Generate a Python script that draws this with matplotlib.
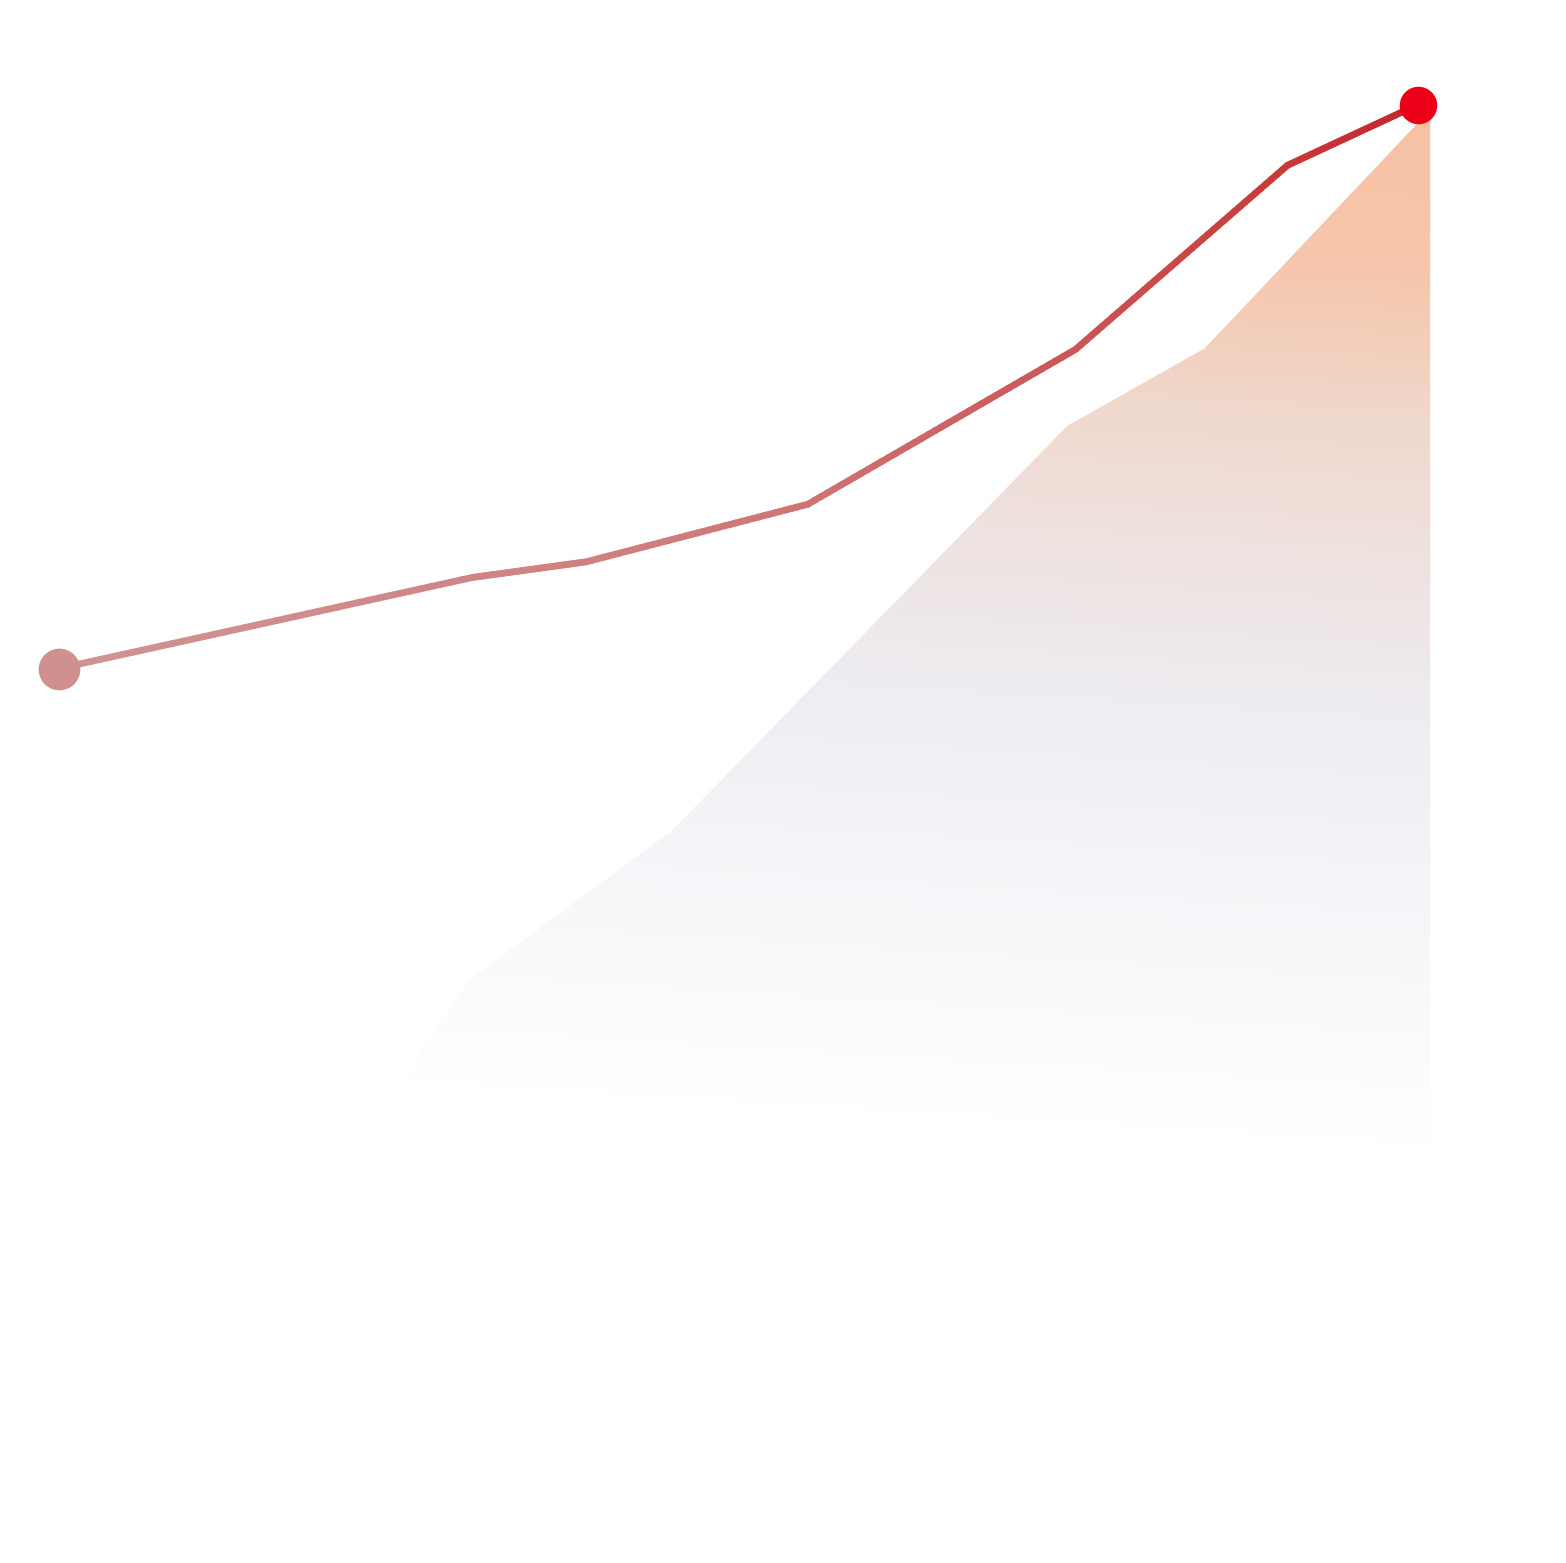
import numpy as np
import matplotlib
matplotlib.use("Agg")
import matplotlib.pyplot as plt
from matplotlib.collections import LineCollection
from matplotlib.colors import LinearSegmentedColormap

# main line
x_vals = [0, 30.4, 38.8, 55.1, 74.8, 90.4, 100]
line_vals = [46.1, 54.8, 56.3, 61.8, 76.6, 94.2, 100]

# shaded area (upper edge)
area_x = [23.5, 26.6, 30.2, 45.1, 74.2, 84.3, 100.9]
area_vals = [0, 9.6, 16.3, 30.6, 69.3, 76.7, 99.5]

fig = plt.figure(figsize=(15.66, 15.63), dpi=100)
ax = fig.add_axes([0, 0, 1, 1])
ax.set_xlim(-4.34, 110.89)
ax.set_ylim(-39.4, 110.0)
ax.axis("off")

# gradient area clipped to polygon
area_cmap = LinearSegmentedColormap.from_list("area", [
    (0.00, "#ffffff"),
    (0.08, "#ffffff"),
    (0.20, "#fafafc"),
    (0.33, "#f3f4f7"),
    (0.46, "#eeedf2"),
    (0.60, "#eee2e0"),
    (0.73, "#f0d8cc"),
    (0.86, "#f6c6ac"),
    (1.00, "#f7c2a4"),
])
poly = ax.fill_between(area_x, area_vals, 0, facecolor="none", edgecolor="none")
gx = np.linspace(-5, 112, 600)
gy = np.linspace(-40, 111, 800)
GX, GY = np.meshgrid(gx, gy)
T = np.clip((GY + 0.08 * GX) / 107.0, 0, 1)
img = ax.imshow(T, extent=(gx[0], gx[-1], gy[0], gy[-1]), origin="lower",
                cmap=area_cmap, vmin=0, vmax=1, aspect="auto", zorder=1,
                interpolation="bilinear")
img.set_clip_path(poly.get_paths()[0], transform=ax.transData)

# gradient line
line_cmap = LinearSegmentedColormap.from_list("line", [
    (0.0, "#d09494"),
    (0.4, "#cf8080"),
    (0.55, "#cf7474"),
    (0.75, "#cc5454"),
    (0.9, "#c83a3a"),
    (1.0, "#c4262a"),
])
xs, ys = [], []
for i in range(len(x_vals) - 1):
    t = np.linspace(0, 1, 40, endpoint=False)
    xs.extend(x_vals[i] + (x_vals[i + 1] - x_vals[i]) * t)
    ys.extend(line_vals[i] + (line_vals[i + 1] - line_vals[i]) * t)
xs.append(x_vals[-1])
ys.append(line_vals[-1])
pts = np.array([xs, ys]).T.reshape(-1, 1, 2)
segs = np.concatenate([pts[:-1], pts[1:]], axis=1)
lc = LineCollection(segs, cmap=line_cmap, linewidths=4.9, capstyle="round", zorder=3)
lc.set_array(np.array(xs[:-1]) / 100)
lc.set_clim(0, 1)
ax.add_collection(lc)

ax.plot(x_vals[0], line_vals[0], "o", color="#d09090", markersize=29, zorder=4)
ax.plot(x_vals[-1], line_vals[-1], "o", color="#ec0018", markersize=26, zorder=4)

fig.savefig("out.png", dpi=100, facecolor="white")
